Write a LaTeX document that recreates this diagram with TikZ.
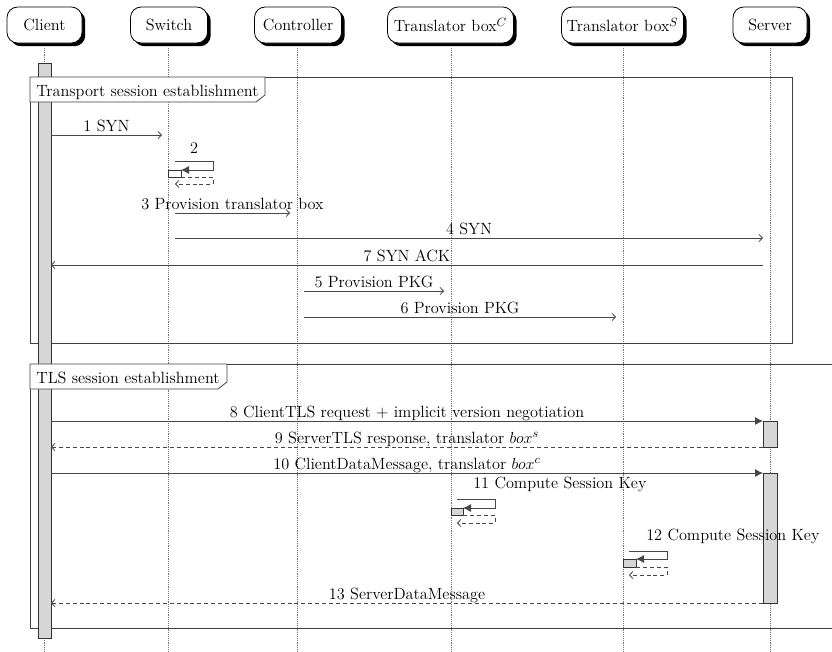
\documentclass[tikz,border=0pt]{standalone}
\usetikzlibrary{shadows,arrows.meta}
\begin{document}
\begin{tikzpicture}[x=0.75pt,y=-0.75pt, font=\fontsize{12.2}{14}\selectfont,
  actor/.style={draw, line width=0.6pt, rounded corners=8pt, fill=white,
    minimum height=27pt, inner xsep=1pt,
    drop shadow={fill=black, opacity=1, shadow xshift=2.4pt, shadow yshift=-2.4pt}},
  life/.style={densely dotted, draw=black!55, line width=0.4pt},
  actbar/.style={draw=black!80, fill=black!16, line width=0.6pt},
  actwhite/.style={draw=black!80, fill=white, line width=0.6pt},
  framebox/.style={draw=black!75, line width=0.6pt},
  framelbl/.style={draw=black!75, fill=white, line width=0.6pt},
  msg/.style={draw=black!72, line width=0.6pt, -{Straight Barb[length=2.6pt,width=5.5pt]}},
  rmsg/.style={msg, dash pattern=on 3pt off 2.2pt},
  callmsg/.style={draw=black!72, line width=0.6pt, -{Latex[length=6pt,width=6pt]}},
  lbl/.style={anchor=base, yshift=3pt, inner sep=0pt}]
\useasboundingbox (0,0) rectangle (832,651);
\coordinate (bot) at (0,651);

% actors
\node[actor, minimum width=56.25pt] (client) at (44.5,25) {Client};
\node[actor, minimum width=57.75pt] (switch) at (169,25) {Switch};
\node[actor, minimum width=65.25pt] (ctrl) at (298,25) {Controller};
\node[actor, minimum width=94.5pt] (tbc) at (450.5,25) {Translator box$^C$};
\node[actor, minimum width=91.5pt] (tbs) at (622.5,25) {Translator box$^S$};
\node[actor, minimum width=55.5pt] (server) at (770,25) {Server};

% lifelines
\coordinate (lc) at (44.5,48);
\coordinate (ls) at (168,48);
\coordinate (lk) at (297,48);
\coordinate (ltc) at (451,48);
\coordinate (lts) at (623,48);
\coordinate (lsv) at (770,48);
\foreach \l in {lc,ls,lk,ltc,lts,lsv}
  \draw[life] (\l) -- (\l |- bot);

% frames (lines)
\draw[framebox] (30,77) rectangle (792,343);
\draw[framebox] (832,364) -- (30,364) -- (30,628) -- (832,628);

% activation bars
\path[actbar] (38,63) rectangle (51,638);
\path[actbar] (763,421) rectangle (777,447);
\path[actbar] (763,473) rectangle (777,603);

% frame labels
\path[framelbl] (30,77) -- (265,77) -- (265,95) -- (256,102) -- (30,102) -- cycle;
\node[anchor=base west, inner sep=0pt] (f1) at (36,96) {Transport session establishment};
\path[framelbl] (30,364) -- (227,364) -- (227,382) -- (218,389) -- (30,389) -- cycle;
\node[anchor=base west, inner sep=0pt] (f2) at (36,383) {TLS session establishment};

% message endpoints
\coordinate (m1a) at (51,135);   \coordinate (m1b) at (162,135);
\coordinate (m3a) at (175,213);  \coordinate (m3b) at (290,213);
\coordinate (m4a) at (175,238);  \coordinate (m4b) at (763,238);
\coordinate (m7a) at (763,265);  \coordinate (m7b) at (51,265);
\coordinate (m5a) at (304,291);  \coordinate (m5b) at (444,291);
\coordinate (m6a) at (304,317);  \coordinate (m6b) at (616,317);
\coordinate (m8a) at (51,421);   \coordinate (m8b) at (763,421);
\coordinate (m9a) at (763,447);  \coordinate (m9b) at (51,447);
\coordinate (m10a) at (51,473);  \coordinate (m10b) at (763,473);
\coordinate (m13a) at (763,603); \coordinate (m13b) at (51,603);

\draw[msg] (m1a) -- node[lbl] {1 SYN} (m1b);
\draw[msg] (m3a) -- node[lbl] {3 Provision translator box} (m3b);
\draw[msg] (m4a) -- node[lbl] {4 SYN} (m4b);
\draw[msg] (m7a) -- node[lbl] {7 SYN ACK} (m7b);
\draw[msg] (m5a) -- node[lbl] {5 Provision PKG} (m5b);
\draw[msg] (m6a) -- node[lbl] {6 Provision PKG} (m6b);
\draw[callmsg] (m8a) -- node[lbl] {8 ClientTLS request + implicit version negotiation} (m8b);
\draw[rmsg] (m9a) -- node[lbl] {9 ServerTLS response, translator $box^s$} (m9b);
\draw[callmsg] (m10a) -- node[lbl] {10 ClientDataMessage, translator $box^c$} (m10b);
\draw[rmsg] (m13a) -- node[lbl] {13 ServerDataMessage} (m13b);

% self call 2 (Switch)
\path[actwhite] (168,170) rectangle (181,177);
\coordinate (s2a) at (175,161); \coordinate (s2b) at (181,170);
\coordinate (s2c) at (181,177); \coordinate (s2d) at (175,184);
\draw[callmsg] (s2a) -- (213,161) -- (213,170) -- (s2b);
\draw[rmsg] (s2c) -- (213,177) -- (213,184) -- (s2d);
\node[anchor=base, inner sep=0pt] (l2) at (194,153) {2};

% self call 11 (Translator box C)
\path[actbar] (451,508) rectangle (463,515);
\coordinate (s11a) at (457,499); \coordinate (s11b) at (463,508);
\coordinate (s11c) at (463,515); \coordinate (s11d) at (457,523);
\draw[callmsg] (s11a) -- (495,499) -- (495,508) -- (s11b);
\draw[rmsg] (s11c) -- (495,515) -- (495,523) -- (s11d);
\node[anchor=base west, inner sep=0pt] (l11) at (473,488) {11 Compute Session Key};

% self call 12 (Translator box S)
\path[actbar] (623,559) rectangle (636,567);
\coordinate (s12a) at (629,551); \coordinate (s12b) at (636,559);
\coordinate (s12c) at (636,567); \coordinate (s12d) at (629,575);
\draw[callmsg] (s12a) -- (667,551) -- (667,559) -- (s12b);
\draw[rmsg] (s12c) -- (667,567) -- (667,575) -- (s12d);
\node[anchor=base west, inner sep=0pt] (l12) at (646,540) {12 Compute Session Key};
\end{tikzpicture}
\end{document}
